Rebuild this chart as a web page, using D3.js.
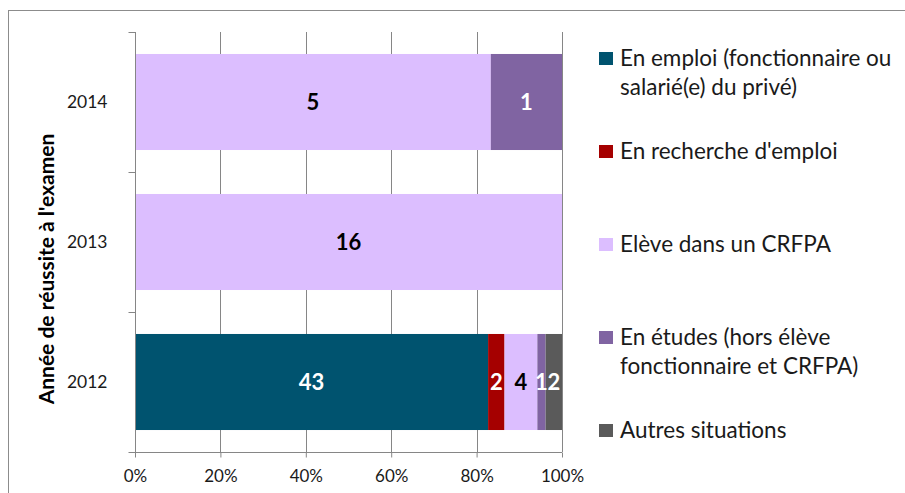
<!DOCTYPE html>
<html>
<head>
<meta charset="utf-8">
<script src="https://cdn.jsdelivr.net/npm/d3@7"></script>
<style>
  body { margin: 0; background: #fff; }
  svg { display: block; font-family: Lato, "Open Sans", sans-serif; }
</style>
</head>
<body>
<svg id="chart" width="905" height="493"></svg>
<script>
// years, bottom to top as in the picture
const years = ["2012", "2013", "2014"]
const seriesNames = [
  "En emploi (fonctionnaire ou salarié(e) du privé)",
  "En recherche d'emploi",
  "Elève dans un CRFPA",
  "En études (hors élève fonctionnaire et CRFPA)",
  "Autres situations"
]
// legend text as it wraps in the picture
const legendLines = [
  ["En emploi (fonctionnaire ou", "salarié(e) du privé)"],
  ["En recherche d'emploi"],
  ["Elève dans un CRFPA"],
  ["En études (hors élève", "fonctionnaire et CRFPA)"],
  ["Autres situations"]
]
// counts per year, one value per series
const emploi    = [43, 0, 0]
const recherche = [2, 0, 0]
const crfpa     = [4, 16, 5]
const etudes    = [1, 0, 1]
const autres    = [2, 0, 0]
const xTicks = [0, 0.2, 0.4, 0.6, 0.8, 1]

const colors = ["#00536f", "#a50000", "#dcbeff", "#8064a2", "#5a5a5a"]
const labelColors = ["#fff", "#fff", "#000", "#fff", "#fff"]

const svg = d3.select("#chart")
const margin = {left: 135, right: 343, top: 32, bottom: 41}
const width = 905, height = 493

// outer frame
svg.append("rect")
  .attr("x", 8.5).attr("y", 10.5)
  .attr("width", width).attr("height", height)
  .attr("fill", "none").attr("stroke", "#8c8c8c")

const values = [emploi, recherche, crfpa, etudes, autres]
const rows = years.map((y, i) => {
  let row = {year: y}
  seriesNames.forEach((s, j) => row[s] = values[j][i])
  return row
})
const stack = d3.stack().keys(seriesNames).offset(d3.stackOffsetExpand)
const layers = stack(rows)

const x = d3.scaleLinear().domain([0, 1]).range([margin.left, width - margin.right])
const y = d3.scaleBand().domain(years.slice().reverse())
  .range([margin.top, height - margin.bottom])
  .paddingInner(0.314).paddingOuter(0.157)

// gridlines
svg.append("g").selectAll("line")
  .data(xTicks.slice(1))
  .enter().append("line")
  .attr("x1", d => Math.round(x(d)) + 0.5).attr("x2", d => Math.round(x(d)) + 0.5)
  .attr("y1", margin.top).attr("y2", height - margin.bottom)
  .attr("stroke", "#868686")

// bars
const layer = svg.append("g").selectAll("g")
  .data(layers)
  .enter().append("g")
  .attr("fill", (d, i) => colors[i])

layer.selectAll("rect")
  .data(d => d)
  .enter().append("rect")
  .attr("x", d => x(d[0]))
  .attr("width", d => x(d[1]) - x(d[0]))
  .attr("y", d => y(d.data.year))
  .attr("height", y.bandwidth())

// data labels
layers.forEach((l, i) => {
  svg.append("g").selectAll("text")
    .data(l.filter(d => d.data[l.key] > 0))
    .enter().append("text")
    .attr("x", d => (x(d[0]) + x(d[1])) / 2)
    .attr("y", d => y(d.data.year) + y.bandwidth() / 2)
    .attr("dy", "0.36em")
    .attr("text-anchor", "middle")
    .attr("font-size", 22).attr("font-weight", "bold")
    .attr("fill", labelColors[i])
    .text(d => d.data[l.key])
})

// x axis
const xAxis = svg.append("g")
  .attr("transform", `translate(0,${height - margin.bottom + 0.5})`)
  .call(d3.axisBottom(x).tickValues(xTicks).tickFormat(d3.format(".0%")).tickSize(5).tickPadding(12))
xAxis.select(".domain").attr("stroke", "#868686").attr("d", `M${margin.left - 6},0H${x(1)}`)
xAxis.selectAll(".tick line").attr("stroke", "#868686")
xAxis.selectAll("text").attr("font-size", 17).attr("fill", "#1a1a1a").attr("font-family", "Lato")

// y axis with ticks on band boundaries
const yAxis = svg.append("g").attr("transform", `translate(${margin.left + 0.5},0)`)
yAxis.append("line")
  .attr("y1", margin.top).attr("y2", height - margin.bottom)
  .attr("stroke", "#868686")
const bounds = years.map(yr => y(yr) - y.step() * y.paddingInner() / 2).concat([height - margin.bottom])
yAxis.selectAll(".tk")
  .data(bounds)
  .enter().append("line")
  .attr("x1", -7).attr("x2", 0)
  .attr("y1", d => Math.round(d) + 0.5).attr("y2", d => Math.round(d) + 0.5)
  .attr("stroke", "#868686")
yAxis.selectAll("text")
  .data(years)
  .enter().append("text")
  .attr("x", -28)
  .attr("y", d => y(d) + y.bandwidth() / 2)
  .attr("dy", "0.36em")
  .attr("text-anchor", "end")
  .attr("font-size", 17.5).attr("fill", "#1a1a1a")
  .text(d => d)

// axis title
svg.append("text")
  .attr("transform", "translate(54,269) rotate(-90)")
  .attr("text-anchor", "middle")
  .attr("font-size", 21).attr("font-weight", "bold").attr("fill", "#000")
  .text("Année de réussite à l'examen")

// legend
const legend = svg.append("g").selectAll("g")
  .data(seriesNames)
  .enter().append("g")
  .attr("transform", (d, i) => `translate(599,${52 + 93 * i})`)
legend.append("rect")
  .attr("width", 14).attr("height", 13)
  .attr("fill", (d, i) => colors[i])
legend.each(function(d, i) {
  d3.select(this).selectAll("text")
    .data(legendLines[i])
    .enter().append("text")
    .attr("x", 21)
    .attr("y", (t, k) => 14 + 29 * k)
    .attr("font-size", 22.5).attr("fill", "#1a1a1a")
    .text(t => t)
})
</script>
</body>
</html>
